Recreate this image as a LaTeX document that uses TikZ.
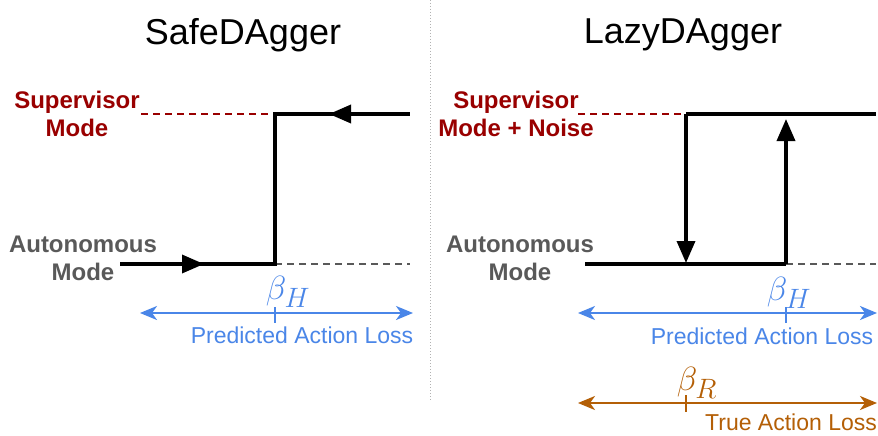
\documentclass[tikz,border=0pt]{standalone}
\usepackage{fontspec}
\setmainfont{Liberation Sans}
\usetikzlibrary{arrows.meta}
\definecolor{supred}{HTML}{990000}
\definecolor{autgray}{HTML}{595959}
\definecolor{lossblue}{HTML}{4A86E8}
\definecolor{lossorange}{HTML}{B45F06}
\begin{document}
\begin{tikzpicture}[x=1pt,y=-1pt,
  title/.style={font=\fontsize{36}{40}\selectfont, inner sep=0pt},
  suplbl/.style={font=\fontsize{24}{28}\selectfont\bfseries, text=supred, align=center, inner sep=0pt},
  autlbl/.style={font=\fontsize{24}{28}\selectfont\bfseries, text=autgray, align=center, inner sep=0pt},
  modeline/.style={line width=3.5pt, black},
  modearrow/.style={line width=3.5pt, black, -{Triangle[length=22pt,width=18pt]}},
  reddash/.style={supred, dash pattern=on 7pt off 5pt, line width=1.2pt},
  graydash/.style={autgray, dash pattern=on 7pt off 5pt, line width=1.2pt},
  losstip/.tip={Stealth[length=17pt,width=14pt,inset=5pt]},
  bluelossline/.style={lossblue, line width=2.2pt, losstip-losstip},
  orlossline/.style={lossorange, line width=2.2pt, losstip-losstip},
  bluetxt/.style={font=\fontsize{23}{26}\selectfont, text=lossblue, inner sep=0pt},
  ortxt/.style={font=\fontsize{23}{26}\selectfont, text=lossorange, inner sep=0pt},
  betab/.style={font=\Huge, scale=1.35, text=lossblue, inner sep=0pt},
  betao/.style={font=\Huge, scale=1.35, text=lossorange, inner sep=0pt},
]
\useasboundingbox (0,0) rectangle (878,436);
\fill[white] (0,0) rectangle (878,436);

% divider
\coordinate (divT) at (430,0);
\coordinate (divB) at (430,400);
\draw[gray!60, line width=1pt, dotted] (divT) -- (divB);

% titles
\node[title] (t1) at (243,35) {SafeDAgger};
\node[title] (t2) at (683,35) {LazyDAgger};

% ---------- left panel ----------
\node[suplbl] (ls) at (77,114) {Supervisor\\Mode};
\node[autlbl] (la) at (83,258) {Autonomous\\Mode};

\coordinate (lA) at (120,264);
\coordinate (lB) at (275,264);
\coordinate (lC) at (275,114);
\coordinate (lD) at (410,114);
\coordinate (lRd) at (141,114);
\coordinate (lGd) at (410,264);

\draw[reddash] (lRd) -- (lC);
\draw[graydash] (lB) -- (lGd);
\draw[modeline, line join=miter] (lA) -- (lB) -- (lC) -- (lD);
\coordinate (la1) at (176,264);
\coordinate (la2) at (204,264);
\draw[modearrow] (la1) -- (la2);
\coordinate (la3) at (358,114);
\coordinate (la4) at (329,114);
\draw[modearrow] (la3) -- (la4);

\coordinate (lbL) at (140,313);
\coordinate (lbR) at (413,313);
\draw[bluelossline] (lbL) -- (lbR);
\coordinate (ltT) at (275,307);
\coordinate (ltB) at (275,323);
\draw[lossblue, line width=2.2pt] (ltT) -- (ltB);
\node[betab] (lbh) at (288,292) {$\beta_H$};
\node[bluetxt] (lpl) at (302,335) {Predicted Action Loss};

% ---------- right panel ----------
\node[suplbl] (rs) at (516,114) {Supervisor\\Mode + Noise};
\node[autlbl] (ra) at (520,258) {Autonomous\\Mode};

\coordinate (rTL) at (686,114);
\coordinate (rTR) at (876,114);
\coordinate (rBL) at (585,264);
\coordinate (rBR) at (786,264);
\coordinate (rRd) at (578,114);
\coordinate (rGd) at (876,264);
\coordinate (rDown) at (686,263);
\coordinate (rUp) at (786,119);

\draw[reddash] (rRd) -- (rTL);
\draw[graydash] (rBR) -- (rGd);
\draw[modeline] (rTL) -- (rTR);
\draw[modeline] (rBL) -- (rBR);
\draw[modearrow] (rTL) -- (rDown);
\draw[modearrow] (rBR) -- (rUp);

\coordinate (rbL) at (578,313);
\coordinate (rbR) at (877,313);
\draw[bluelossline] (rbL) -- (rbR);
\coordinate (rtT) at (786,307);
\coordinate (rtB) at (786,323);
\draw[lossblue, line width=2.2pt] (rtT) -- (rtB);
\node[betab] (rbh) at (789,293) {$\beta_H$};
\node[bluetxt] (rpl) at (762,336) {Predicted Action Loss};

\coordinate (roL) at (578,403);
\coordinate (roR) at (877,403);
\draw[orlossline] (roL) -- (roR);
\coordinate (rotT) at (686,395);
\coordinate (rotB) at (686,412);
\draw[lossorange, line width=2.2pt] (rotT) -- (rotB);
\node[betao] (rbr) at (697,383) {$\beta_R$};
\node[ortxt] (rtl) at (791,422) {True Action Loss};
\end{tikzpicture}
\end{document}
